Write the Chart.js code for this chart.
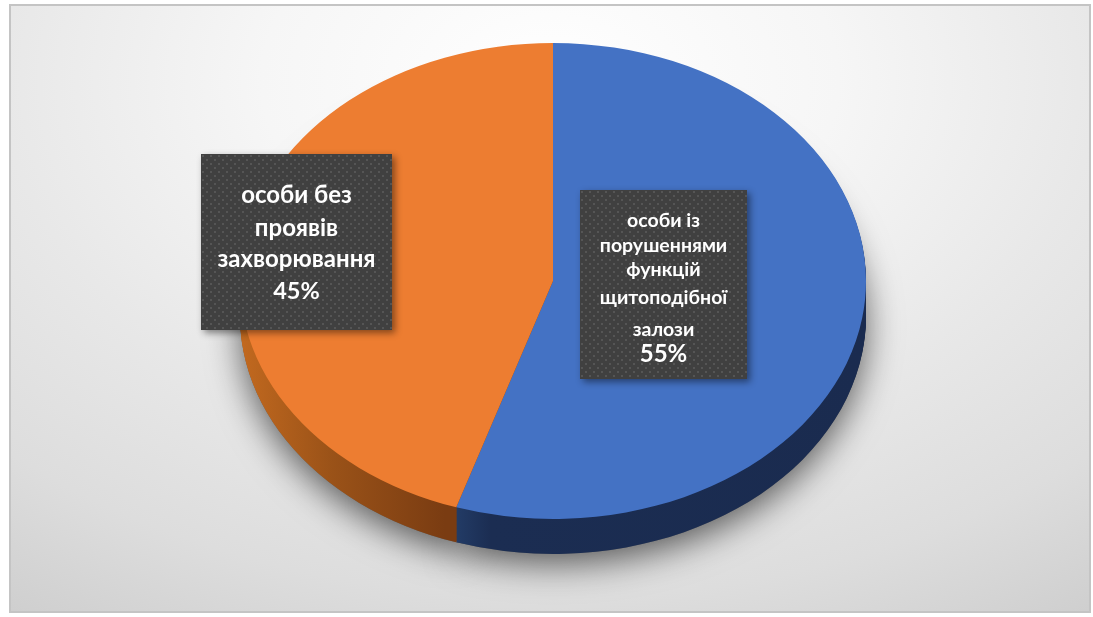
<!DOCTYPE html>
<html>
<head>
<meta charset="utf-8">
<script src="https://cdn.jsdelivr.net/npm/chart.js@4.4.1/dist/chart.umd.min.js"></script>
<style>
  html, body { margin: 0; padding: 0; background: #ffffff; }
  canvas { display: block; }
</style>
</head>
<body>
<canvas id="chart" width="1093" height="617"></canvas>
<script>
// Shares of the surveyed group
const categories = ['особи із порушеннями функцій щитоподібної залози', 'особи без проявів захворювання'];
const values = [55, 45];
const labelLines = [
  ['особи із', 'порушеннями', 'функцій', 'щитоподібної', 'залози'],
  ['особи без', 'проявів', 'захворювання']
];

// Colours: top faces and the darker side walls
const topColors = ['#4472C4', '#ED7D31'];
const sideColors = [['#26426f', '#1b2d52', '#1a2b4f'], ['#c2691f', '#9a5218', '#7a3c12']];

// Projected pie: centre, radii and wall height on the page
const PIE = { cx: 553, cy: 281, rx: 313, ry: 238, depth: 35 };

// Callout boxes (left/top corner, size) and text baselines inside them
const boxes = [
  { x: 580, y: 190, w: 167, h: 189, size: 19.5, pctSize: 24, base: [37, 62, 86, 114, 146], pctBase: 172 },
  { x: 201, y: 154, w: 191, h: 176, size: 24, pctSize: 23.5, base: [49, 82, 113], pctBase: 145 }
];

const FONT = 'Lato, "Noto Sans", sans-serif';

function makeDotPattern(ctx) {
  const t = document.createElement('canvas');
  t.width = 8; t.height = 8;
  const c = t.getContext('2d');
  c.fillStyle = '#404040';
  c.fillRect(0, 0, 8, 8);
  c.fillStyle = '#555555';
  c.fillRect(1, 1, 2, 2);
  c.fillRect(5, 5, 2, 2);
  return ctx.createPattern(t, 'repeat');
}

function drawArcWith(ctx, arc, fill) {
  const orig = arc.options;
  arc.options = Object.assign({}, orig, { backgroundColor: fill, borderColor: fill, borderWidth: 0 });
  arc.draw(ctx);
  arc.options = orig;
}

const pie3d = {
  id: 'pie3d',
  beforeDraw(chart) {
    const ctx = chart.ctx;
    ctx.save();
    ctx.fillStyle = '#ffffff';
    ctx.fillRect(0, 0, chart.width, chart.height);
    // soft light-to-grey backdrop inside the frame
    ctx.save();
    ctx.beginPath();
    ctx.rect(11, 6, 1078, 605);
    ctx.clip();
    ctx.translate(550, 80);
    ctx.scale(1.5, 1);
    const g = ctx.createRadialGradient(0, 0, 0, 0, 0, 640);
    g.addColorStop(0, '#ffffff');
    g.addColorStop(0.3, '#f6f6f6');
    g.addColorStop(0.57, '#e8e8e8');
    g.addColorStop(0.81, '#dddddd');
    g.addColorStop(1, '#cfcfcf');
    ctx.fillStyle = g;
    ctx.fillRect(-400, -100, 800, 700);
    ctx.restore();
    ctx.strokeStyle = '#c4c4c4';
    ctx.lineWidth = 2;
    ctx.strokeRect(10, 5, 1080, 607);
    ctx.restore();
  },
  beforeDatasetsDraw(chart) {
    const ctx = chart.ctx;
    const arcs = chart.getDatasetMeta(0).data;
    const R = arcs[0].outerRadius, ox = arcs[0].x, oy = arcs[0].y;
    const sx = PIE.rx / R, sy = PIE.ry / R;
    const place = (dy) => {
      ctx.translate(PIE.cx, PIE.cy + dy);
      ctx.scale(sx, sy);
      ctx.translate(-ox, -oy);
    };
    // page x -> arc-local x
    const lx = (x) => ox + (x - PIE.cx) / sx;

    // ground shadow
    ctx.save();
    place(PIE.depth);
    ctx.shadowColor = 'rgba(0,0,0,0.6)';
    ctx.shadowBlur = 34;
    ctx.shadowOffsetY = 10;
    arcs.forEach(a => drawArcWith(ctx, a, '#666666'));
    ctx.restore();

    // side walls
    const sideFill = arcs.map((a, i) => {
      const x0 = i === 0 ? lx(440) : lx(240);
      const x1 = i === 0 ? lx(866) : lx(445);
      const g = ctx.createLinearGradient(x0, 0, x1, 0);
      const s = sideColors[i];
      if (i === 0) {
        g.addColorStop(0, s[0]); g.addColorStop(0.12, s[1]); g.addColorStop(1, s[2]);
      } else {
        g.addColorStop(0, s[0]); g.addColorStop(0.45, s[1]); g.addColorStop(1, s[2]);
      }
      return g;
    });
    for (let d = PIE.depth; d >= 1; d--) {
      ctx.save();
      place(d);
      arcs.forEach((a, i) => drawArcWith(ctx, a, sideFill[i]));
      ctx.restore();
    }

    // top face
    ctx.save();
    place(0);
    arcs.forEach((a, i) => drawArcWith(ctx, a, topColors[i]));
    ctx.restore();
    return false;
  },
  afterDraw(chart) {
    const ctx = chart.ctx;
    const data = chart.data.datasets[0].data;
    const total = data.reduce((s, v) => s + v, 0);
    const pattern = makeDotPattern(ctx);
    boxes.forEach((b, i) => {
      ctx.save();
      ctx.shadowColor = 'rgba(0,0,0,0.45)';
      ctx.shadowBlur = 7;
      ctx.shadowOffsetX = 3;
      ctx.shadowOffsetY = 3;
      ctx.fillStyle = '#404040';
      ctx.fillRect(b.x, b.y, b.w, b.h);
      ctx.restore();
      ctx.save();
      ctx.fillStyle = pattern;
      ctx.translate(b.x, b.y);
      ctx.fillRect(0, 0, b.w, b.h);
      ctx.restore();

      ctx.save();
      ctx.fillStyle = '#ffffff';
      ctx.textAlign = 'center';
      ctx.textBaseline = 'alphabetic';
      const cx = b.x + b.w / 2;
      ctx.font = 'bold ' + b.size + 'px ' + FONT;
      labelLines[i].forEach((t, k) => ctx.fillText(t, cx, b.y + b.base[k]));
      ctx.font = 'bold ' + b.pctSize + 'px ' + FONT;
      ctx.fillText(Math.round(data[i] / total * 100) + '%', cx, b.y + b.pctBase);
      ctx.restore();
    });
  }
};

new Chart(document.getElementById('chart'), {
  type: 'pie',
  data: {
    labels: categories,
    datasets: [{
      data: values,
      backgroundColor: topColors,
      borderWidth: 0
    }]
  },
  options: {
    responsive: false,
    devicePixelRatio: 1,
    animation: false,
    events: [],
    plugins: {
      legend: { display: false },
      tooltip: { enabled: false }
    }
  },
  plugins: [pie3d]
});
</script>
</body>
</html>
